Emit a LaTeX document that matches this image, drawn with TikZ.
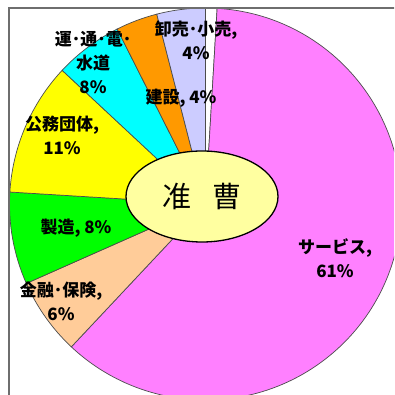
\documentclass[tikz,border=0pt]{standalone}
\usepackage{fontspec}
\newfontfamily\jpfont{Noto Sans CJK JP}
\usepackage{tikz}
\usetikzlibrary{shapes.geometric}
\definecolor{slicepink}{RGB}{255, 128, 255}
\definecolor{slicepeach}{RGB}{255, 204, 153}
\definecolor{slicegreen}{RGB}{0, 255, 0}
\definecolor{sliceyellow}{RGB}{255, 255, 0}
\definecolor{slicecyan}{RGB}{0, 255, 255}
\definecolor{sliceorange}{RGB}{255, 153, 0}
\definecolor{slicelavender}{RGB}{204, 204, 255}
\definecolor{centerfill}{RGB}{255, 255, 160}
\definecolor{framegray}{RGB}{110, 110, 110}
\tikzset{
  slice/.style={draw=black!70, line width=0.7pt},
  slicelabel/.style={font=\jpfont\bfseries\fontsize{17}{24}\selectfont, align=center, inner sep=0pt}
}

\begin{document}
\begin{tikzpicture}[x=1pt, y=1pt]
  \useasboundingbox (0, 0) rectangle (394, 395);
  \clip (0, 0) rectangle (394, 395);
  \coordinate (c) at (205.5, 191);

  % The slices, clockwise from twelve o'clock
  \filldraw[slice, fill=white] (c) -- ++(90:196) arc[start angle=90, end angle=86.6, radius=196] -- cycle;
  \filldraw[slice, fill=slicepink] (c) -- ++(86.6:196) arc[start angle=86.6, end angle=-133.2, radius=196] -- cycle;
  \filldraw[slice, fill=slicepeach] (c) -- ++(-133.2:196) arc[start angle=-133.2, end angle=-156.1, radius=196] -- cycle;
  \filldraw[slice, fill=slicegreen] (c) -- ++(-156.1:196) arc[start angle=-156.1, end angle=-183.5, radius=196] -- cycle;
  \filldraw[slice, fill=sliceyellow] (c) -- ++(-183.5:196) arc[start angle=-183.5, end angle=-223, radius=196] -- cycle;
  \filldraw[slice, fill=slicecyan] (c) -- ++(-223:196) arc[start angle=-223, end angle=-243.2, radius=196] -- cycle;
  \filldraw[slice, fill=sliceorange] (c) -- ++(-243.2:196) arc[start angle=-243.2, end angle=-255.6, radius=196] -- cycle;
  \filldraw[slice, fill=slicelavender] (c) -- ++(-255.6:196) arc[start angle=-255.6, end angle=-270, radius=196] -- cycle;

  % Slice labels
  \node[slicelabel] (oroshi) at (196, 355) {卸売･小売,\\4\%};
  \node[slicelabel] (kensetsu) at (181, 297) {建設, 4\%};
  \node[slicelabel] (unyu) at (93, 332) {運･通･電･\\水道\\8\%};
  \node[slicelabel] (koumu) at (62, 260) {公務団体,\\11\%};
  \node[slicelabel] (seizou) at (76, 167) {製造, 8\%};
  \node[slicelabel] (kinyu) at (61, 93.5) {金融･保険,\\6\%};
  \node[slicelabel] (service) at (335, 136.5) {サービス,\\61\%};

  % Centre
  \node[ellipse, draw=black, line width=1.3pt, fill=centerfill, minimum width=152, minimum height=91, inner sep=0pt,
        font=\jpfont\fontsize{29}{32}\selectfont] (title) at (202, 198.5) {准\hspace{0.7em}曹};

  % Frame
  \draw[framegray, line width=2pt] (8.5, -10) -- (8.5, 386.5) -- (404, 386.5);
\end{tikzpicture}
\end{document}
